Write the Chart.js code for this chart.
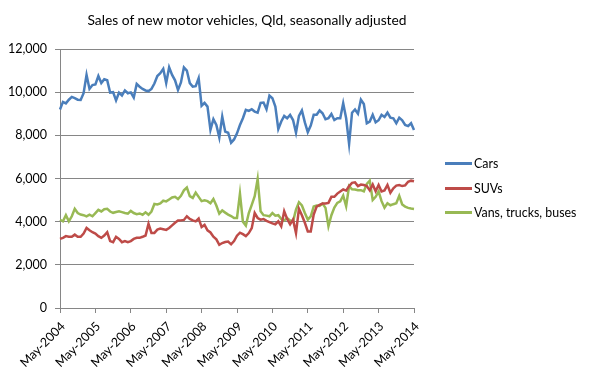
<!DOCTYPE html>
<html><head><meta charset="utf-8">
<script src="https://cdn.jsdelivr.net/npm/chart.js@4/dist/chart.umd.min.js"></script>
<style>
html,body{margin:0;padding:0;background:#fff;}
#wrap{position:relative;width:591px;height:377px;overflow:hidden;font-family:Lato,'Liberation Sans',sans-serif;color:#000;}
#c{position:absolute;left:0;top:0;}
#title{position:absolute;left:0;width:494px;top:11px;text-align:center;font-size:13.8px;line-height:17px;white-space:nowrap;}
.lg{position:absolute;left:445px;font-size:12.4px;line-height:16px;white-space:nowrap;}
.lg span.ln{display:inline-block;width:27px;height:3px;vertical-align:middle;margin-right:2px;position:relative;top:-1px;}
</style>
</head><body>
<div id="wrap">
<canvas id="c" width="591" height="377"></canvas>
<div id="title">Sales of new motor vehicles, Qld, seasonally adjusted</div>
<div class="lg" style="top:156px"><span class="ln" style="background:#4A7EBB"></span>Cars</div>
<div class="lg" style="top:181px"><span class="ln" style="background:#BE4B48"></span>SUVs</div>
<div class="lg" style="top:205px"><span class="ln" style="background:#98B954"></span>Vans, trucks, buses</div>
</div>
<script>
const monthNames = ["Jan","Feb","Mar","Apr","May","Jun","Jul","Aug","Sep","Oct","Nov","Dec"];
const yearTickLabels = ["May-2004","May-2005","May-2006","May-2007","May-2008","May-2009","May-2010","May-2011","May-2012","May-2013","May-2014"];
const seriesNames = ["Cars","SUVs","Vans, trucks, buses"];
const yTicks = [0,2000,4000,6000,8000,10000,12000];

const cars = [9200,9550,9480,9650,9780,9720,9650,9640,9950,10800,
10150,10330,10360,10750,10420,10600,10550,9980,10000,9620,
9980,9850,10080,9950,9990,9750,10380,10250,10150,10080,
10050,10150,10400,10750,10880,11080,10420,11150,10800,10550,
10100,10450,11150,11000,10420,10260,10280,10650,9370,9500,
9330,8250,8750,8480,7900,8870,8170,8120,7660,7810,
8090,8480,8790,9180,9130,9210,9100,9050,9500,9520,
9210,9840,9720,9330,8290,8640,8900,8790,8950,8710,
8120,8900,9150,8600,8150,8450,8950,8950,9150,9020,
8745,8790,8990,8710,8790,8790,9490,8790,7600,9050,
9200,9000,9650,9450,8560,8640,8950,8600,8700,8950,
8850,9050,8820,8790,8560,8820,8700,8480,8430,8560,
8250];
const suvs = [3200,3250,3330,3300,3300,3400,3300,3300,3450,3710,
3600,3510,3450,3330,3250,3360,3510,3100,3050,3300,
3200,3050,3100,3050,3100,3200,3250,3250,3300,3360,
3900,3480,3480,3630,3680,3650,3620,3710,3830,3950,
4050,4060,4080,4250,4125,4060,4015,4150,3750,3850,
3600,3500,3300,3180,2930,3010,3060,3080,2950,3100,
3350,3490,3420,3330,3470,3700,4400,4170,4095,4125,
4040,3980,3920,3880,4015,3785,4480,4125,3875,4095,
3475,4600,4300,3950,3550,3550,4325,4700,4780,4840,
4840,4870,5150,5150,5300,5400,5490,5440,5650,5800,
5820,5650,5720,5700,5650,5450,5720,5410,5700,5400,
5450,5700,5340,5550,5670,5700,5650,5680,5850,5900,
5870];
const vans = [4090,4015,4300,4015,4250,4595,4400,4330,4300,4245,
4320,4250,4400,4550,4475,4580,4595,4470,4410,4450,
4480,4440,4400,4370,4500,4400,4350,4380,4320,4430,
4320,4470,4820,4800,4850,4970,4940,5030,5120,5150,
5050,5200,5450,5580,5180,5100,5350,5150,4950,4990,
4950,4850,5050,4750,4370,4520,4420,4330,4260,4170,
4170,5300,4000,3820,4400,4780,5180,5980,4480,4300,
4280,4250,4400,4280,4300,4120,4060,4170,4060,4015,
4560,4900,4750,4400,4095,4250,4700,4745,4730,4840,
4640,3790,4300,4650,4870,4945,5210,4715,5650,5500,
5490,5460,5460,5400,5750,5900,5000,5150,5400,4950,
4650,4850,4760,4810,4850,5200,4800,4700,4640,4610,
4590];

const categories = [];
for (let k = 0; k < cars.length; k++) {
  const m = (4 + k) % 12;
  const y = 2004 + Math.floor((4 + k) / 12);
  categories.push(monthNames[m] + "-" + y);
}
const gridColor = '#868686';
const fam = "Lato, 'Liberation Sans', sans-serif";

new Chart(document.getElementById('c'), {
  type: 'line',
  data: {
    labels: categories,
    datasets: [
      {label: seriesNames[0], data: cars, borderColor: '#4A7EBB', backgroundColor: '#4A7EBB'},
      {label: seriesNames[1], data: suvs, borderColor: '#BE4B48', backgroundColor: '#BE4B48'},
      {label: seriesNames[2], data: vans, borderColor: '#98B954', backgroundColor: '#98B954'}
    ]
  },
  options: {
    responsive: false,
    animation: false,
    devicePixelRatio: 1,
    layout: {padding: {top: 49, right: 177, left: 0, bottom: 0}},
    elements: {point: {radius: 0}, line: {borderWidth: 2.5, tension: 0}},
    plugins: {legend: {display: false}, title: {display: false}, tooltip: {enabled: false}},
    scales: {
      x: {
        type: 'category',
        offset: false,
        afterFit: s => { s.height = 69; },
        border: {display: true, color: gridColor, width: 1},
        grid: {
          drawOnChartArea: false, drawTicks: true, tickLength: 5,
          color: ctx => (ctx.index % 12 === 0 ? gridColor : 'rgba(0,0,0,0)')
        },
        ticks: {
          autoSkip: false, maxRotation: 45, minRotation: 45, padding: 6, labelOffset: 3,
          color: '#000', font: {family: fam, size: 12.5},
          callback: (v, i) => (i % 12 === 0 ? yearTickLabels[i / 12] : '')
        }
      },
      y: {
        min: 0, max: 12000,
        afterFit: s => { s.width = 60; },
        afterBuildTicks: s => { s.ticks = yTicks.map(v => ({value: v})); },
        border: {display: true, color: gridColor, width: 1},
        grid: {color: gridColor, lineWidth: 1, tickLength: 5, drawTicks: true},
        ticks: {
          color: '#000', font: {family: fam, size: 12.5}, padding: 8,
          callback: v => v.toLocaleString('en-US')
        }
      }
    }
  }
});
</script>
</body></html>
